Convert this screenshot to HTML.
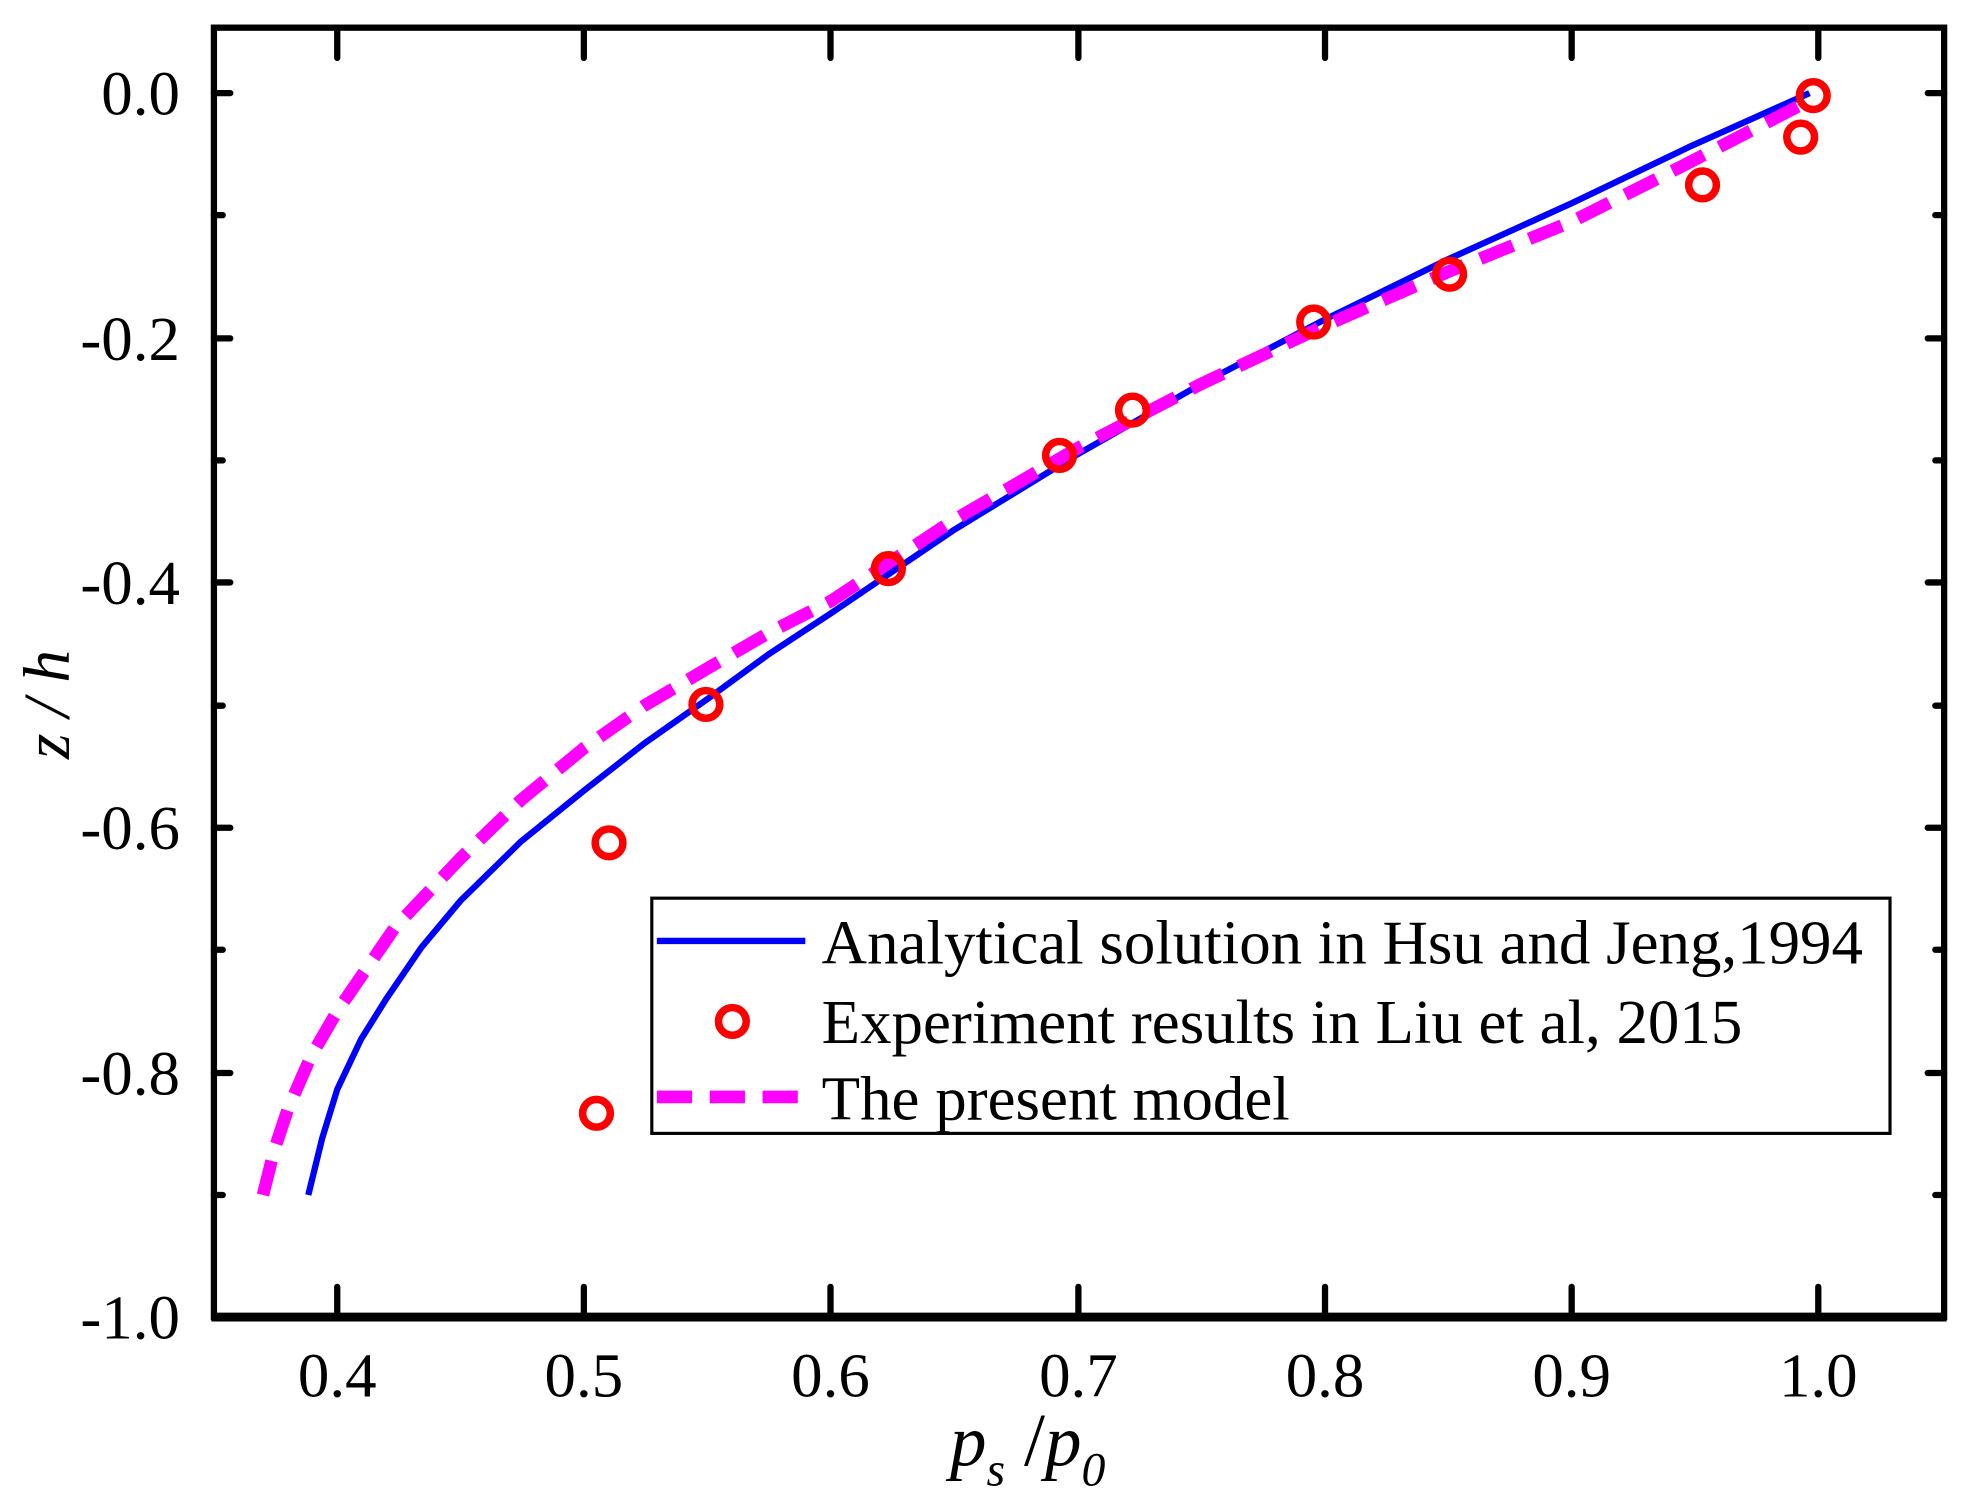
<!DOCTYPE html>
<html><head><style>html,body{margin:0;padding:0;background:#fff}svg{display:block}</style></head>
<body>
<svg width="1963" height="1507" viewBox="0 0 1560 1198" preserveAspectRatio="none" xmlns="http://www.w3.org/2000/svg" font-family="Liberation Serif, serif">
<rect width="1560" height="1198" fill="#fff"/>
<g stroke="#000" stroke-width="5" stroke-linecap="round">
<path d="M170 74h13M170 171h7M170 269h13M170 366h7M170 463h13M170 561h7M170 658h13M170 755h7M170 853h13M170 950h7"/>
<path d="M1545 74h-13M1545 171h-7M1545 269h-13M1545 366h-7M1545 463h-13M1545 561h-7M1545 658h-13M1545 755h-7M1545 853h-13M1545 950h-7"/>
<path d="M268 1047v-24M464 1047v-24M660 1047v-24M857 1047v-24M1053 1047v-24M1249 1047v-24M1445 1047v-24"/>
<path d="M268 22v24M464 22v24M660 22v24M857 22v24M1053 22v24M1249 22v24M1445 22v24"/>
</g>
<rect x="170" y="22" width="1375" height="1025" fill="none" stroke="#000" stroke-width="5"/>
<line x1="168" y1="1047" x2="1547" y2="1047" stroke="#000" stroke-width="7"/>
<g font-size="50" text-anchor="end">
<text x="143" y="91">0.0</text><text x="143" y="286">-0.2</text><text x="143" y="480">-0.4</text>
<text x="143" y="675">-0.6</text><text x="143" y="870">-0.8</text><text x="143" y="1064">-1.0</text>
</g>
<g font-size="50" text-anchor="middle">
<text x="268" y="1110">0.4</text><text x="464" y="1110">0.5</text><text x="660" y="1110">0.6</text><text x="857" y="1110">0.7</text>
<text x="1053" y="1110">0.8</text><text x="1249" y="1110">0.9</text><text x="1445" y="1110">1.0</text>
</g>
<text transform="translate(55,560) rotate(-90)" font-size="52" font-style="italic" text-anchor="middle">z / h</text>
<text x="755" y="1165" font-size="58" font-style="italic">p<tspan font-size="38" dy="16">s</tspan><tspan dy="-16" font-style="normal" font-size="60"> /</tspan><tspan>p</tspan><tspan font-size="38" dy="16">0</tspan></text>
<polyline points="245,950 256,905 268,866 287,826 307,794 335,753 366,716 414,669 464,628.6 512,591 562.3,555.6 611,520 660.4,487.5 757,422 856.6,361 955,305 1052.8,254 1151,206 1249,161.6 1342,117 1438,74" fill="none" stroke="#0000ff" stroke-width="5" stroke-linejoin="round"/>
<polyline points="209,950 218,914 228.8,881.6 247,840 268,803.8 314,737 366.1,682.1 414,636 464.2,594.6 512,561 562.3,531.3 611,503 660.4,477.8 757,414 856.6,356.2 955,305 1052.8,258.9 1151,216 1249,176.2 1337,132 1430,84" fill="none" stroke="#ff00ff" stroke-width="10" stroke-dasharray="28 14" stroke-linejoin="round"/>
<g fill="none" stroke="#ff0000" stroke-width="6">
<circle cx="1441" cy="76" r="11"/><circle cx="1431" cy="109" r="11"/><circle cx="1353" cy="147" r="11"/>
<circle cx="1152" cy="218" r="11"/><circle cx="1044" cy="256" r="11"/><circle cx="900" cy="326" r="11"/>
<circle cx="842" cy="362" r="11"/><circle cx="706" cy="452" r="11"/><circle cx="561" cy="560" r="11"/>
<circle cx="484" cy="670" r="11"/><circle cx="474" cy="885" r="11"/>
</g>
<rect x="518" y="714" width="984" height="187" fill="#fff" stroke="#000" stroke-width="2.5"/>
<line x1="522" y1="748" x2="640" y2="748" stroke="#0000ff" stroke-width="5"/>
<circle cx="582" cy="812" r="11" fill="none" stroke="#ff0000" stroke-width="6"/>
<line x1="522" y1="872" x2="640" y2="872" stroke="#ff00ff" stroke-width="10" stroke-dasharray="28 14"/>
<g font-size="50">
<text x="653" y="766">Analytical solution in Hsu and Jeng,1994</text>
<text x="653" y="829">Experiment results in Liu et al, 2015</text>
<text x="653" y="890">The present model</text>
</g>
</svg>
</body></html>
